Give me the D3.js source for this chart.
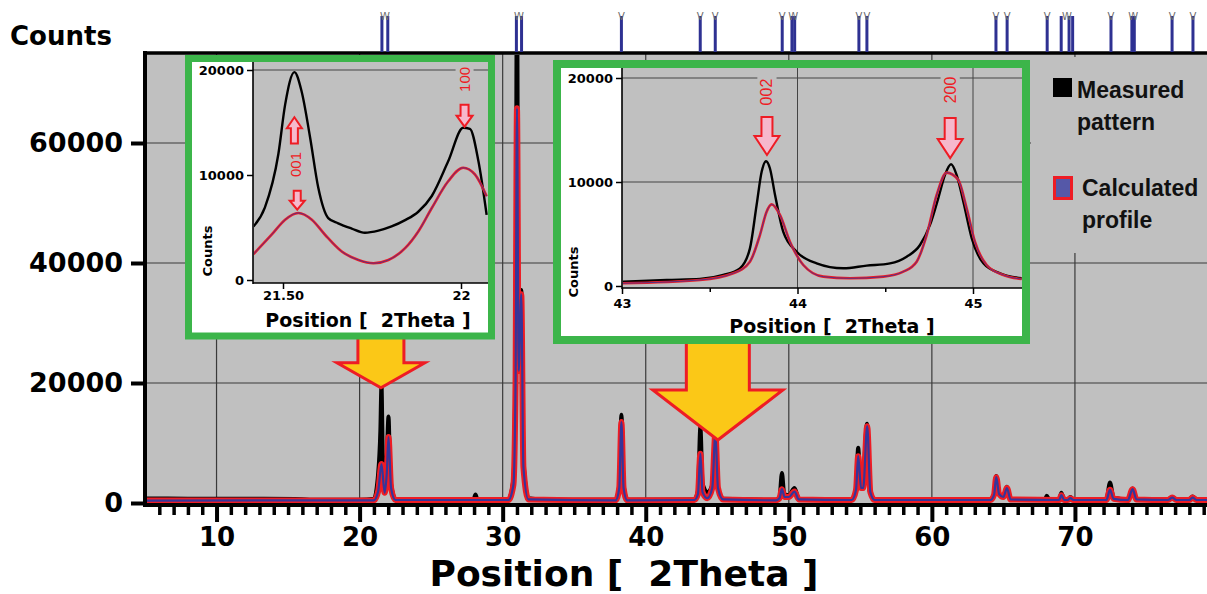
<!DOCTYPE html>
<html>
<head>
<meta charset="utf-8">
<script src="https://cdn.jsdelivr.net/npm/d3@7"></script>
<style>
  body { margin: 0; background: #fff; }
  svg { display: block; }
</style>
</head>
<body>
<div id="chart"></div>
<script>
// XRD pattern with Rietveld fit, two zoomed insets

// ---------- Data ----------

const xTicksMain = [10, 20, 30, 40, 50, 60, 70];
const yTicksMain = [0, 20000, 40000, 60000];

// reference (Bragg) positions shown above the plot
const braggPositions = [21.56, 21.97, 30.96, 31.32, 38.30, 43.81, 44.86, 49.54, 50.22, 50.41,
    54.90, 55.46, 64.48, 65.26, 68.06, 69.04, 69.59, 69.84, 72.52, 73.98, 74.15, 76.79, 78.25];

// [2theta, counts]
const measuredMain = [
    [5, 750], [8, 720], [12, 700], [15.5, 680], [16.5, 550], [20, 550], [21.0, 700], [21.3, 5000],
    [21.45, 12000], [21.53, 19700], [21.62, 8000], [21.75, 4500], [21.9, 7500], [22.02, 14400],
    [22.15, 4000], [22.5, 700], [24, 500], [27.95, 500], [28.1, 1400], [28.25, 500], [30.4, 600],
    [30.75, 4000], [30.9, 25000], [31.0, 90000], [31.1, 30000], [31.3, 35500], [31.45, 7000],
    [31.8, 800], [33, 550], [37.9, 550], [38.15, 3000], [38.3, 14700], [38.45, 3000], [38.7, 550],
    [43.4, 600], [43.65, 2000], [43.82, 12700], [43.97, 3300], [44.3, 1800], [44.65, 3000],
    [44.87, 12000], [45.05, 2500], [45.4, 700], [49.1, 550], [49.35, 1000], [49.52, 5000],
    [49.68, 1500], [50.0, 1300], [50.4, 2500], [50.7, 700], [54.4, 600], [54.7, 2500],
    [54.85, 9200], [55.0, 3500], [55.15, 3000], [55.47, 13200], [55.65, 2000], [56.0, 600],
    [64.1, 600], [64.35, 1500], [64.5, 4500], [64.7, 1500], [65.0, 1200], [65.25, 2700],
    [65.5, 700], [67.9, 600], [68.03, 1200], [68.2, 600], [68.9, 600], [69.05, 1700], [69.25, 600],
    [69.5, 600], [69.68, 1000], [69.9, 550], [72.2, 600], [72.45, 3400], [72.7, 900], [73.7, 600],
    [74.03, 2400], [74.3, 700], [76.5, 600], [76.8, 1000], [77.1, 600], [78.0, 600], [78.22, 1100],
    [78.5, 600], [80, 600]
];

const calculatedMain = [
    [5, 400], [21.0, 450], [21.3, 2000], [21.53, 6500], [21.75, 1700], [21.9, 5000], [22.02, 11000],
    [22.2, 2500], [22.5, 500], [30.4, 500], [30.75, 3000], [30.9, 20000], [31.0, 65800],
    [31.12, 22000], [31.3, 34800], [31.45, 6000], [31.8, 600], [37.9, 450], [38.15, 2500],
    [38.3, 13500], [38.45, 2500], [38.7, 450], [43.4, 500], [43.65, 1500], [43.82, 8200],
    [43.97, 1800], [44.3, 800], [44.65, 2500], [44.87, 11600], [45.05, 2500], [45.4, 600],
    [49.1, 450], [49.35, 800], [49.52, 2300], [49.7, 1000], [50.0, 1000], [50.4, 1900], [50.7, 600],
    [54.4, 500], [54.7, 2200], [54.85, 7800], [55.05, 2500], [55.2, 2500], [55.48, 12800],
    [55.7, 1800], [56.0, 500], [64.1, 500], [64.35, 1400], [64.5, 4300], [64.7, 1500], [65.0, 1000],
    [65.25, 2500], [65.5, 600], [68.9, 500], [69.05, 1300], [69.25, 500], [69.5, 500], [69.68, 800],
    [69.9, 500], [72.2, 500], [72.45, 2200], [72.7, 700], [73.7, 500], [74.03, 2300], [74.3, 600],
    [76.5, 500], [76.8, 900], [77.1, 500], [78.0, 500], [78.22, 900], [78.5, 500], [80, 500]
];

// inset 1: 001 / 100 region
const inset1XTicks = [21.5, 22];
const inset1XLabels = ["21.50", "22"];
const inset1YTicks = [0, 10000, 20000];
const inset1Measured = [
    [21.417, 5100], [21.449, 6900], [21.487, 12000], [21.506, 16700], [21.532, 19800],
    [21.552, 18000], [21.576, 13600], [21.599, 8800], [21.627, 5900], [21.655, 5400],
    [21.693, 4900], [21.730, 4500], [21.768, 4700], [21.805, 5100], [21.843, 5700],
    [21.880, 6500], [21.918, 8000], [21.964, 11300], [22.006, 14500], [22.025, 14400],
    [22.049, 11300], [22.072, 6200]
];
const inset1Calculated = [
    [21.417, 2460], [21.468, 4310], [21.506, 5740], [21.543, 6380], [21.581, 5740],
    [21.618, 4310], [21.665, 2710], [21.712, 1910], [21.754, 1600], [21.796, 1910],
    [21.843, 3030], [21.880, 4620], [21.918, 6860], [21.964, 9400], [22.006, 10690],
    [22.039, 10050], [22.072, 7970]
];

// inset 2: 002 / 200 region
const inset2XTicks = [43, 44, 45];
const inset2XLabels = ["43", "44", "45"];
const inset2YTicks = [0, 10000, 20000];
const inset2Measured = [
    [43.0, 410], [43.255, 580], [43.444, 670], [43.577, 1060], [43.672, 1700], [43.729, 3620],
    [43.767, 7790], [43.796, 11000], [43.821, 12000], [43.843, 11300], [43.872, 8750],
    [43.919, 5200], [43.995, 3300], [44.109, 2180], [44.261, 1700], [44.394, 1960],
    [44.527, 2180], [44.622, 2820], [44.698, 3940], [44.755, 5870], [44.802, 8430],
    [44.840, 10670], [44.875, 11700], [44.907, 10670], [44.945, 8100], [44.993, 4580],
    [45.059, 2180], [45.154, 1220], [45.277, 740]
];
const inset2Calculated = [
    [43.0, 260], [43.444, 580], [43.634, 1220], [43.729, 2340], [43.786, 4900], [43.824, 7150],
    [43.853, 7850], [43.900, 6830], [43.957, 4260], [44.033, 2020], [44.147, 900], [44.299, 740],
    [44.489, 900], [44.603, 1380], [44.679, 2340], [44.736, 4900], [44.793, 8750], [44.850, 10900],
    [44.916, 10200], [44.964, 7470], [45.011, 4260], [45.078, 2020], [45.173, 1060], [45.277, 670]
];

// peak (hkl) labels
const inset1PeakNames = ["001", "100"];
const inset2PeakNames = ["002", "200"];

// ---------- Setup ----------

const width = 1207;
const height = 594;
const boldFont = "'DejaVu Sans', Verdana, sans-serif";
const red = "#ee1c24";
const blue = "#35359a";
const plotGray = "#c0c0c0";

const svg = d3.select("#chart")
    .append("svg")
    .attr("width", width)
    .attr("height", height);

svg.append("rect").attr("width", width).attr("height", height).attr("fill", "#fff");

const defs = svg.append("defs");

const x = d3.scaleLinear().domain([5, 80]).range([145, 1218]);
const y = d3.scaleLinear().domain([0, 75000]).range([503, 53]);

// ---------- Main plot ----------

svg.append("rect")
    .attr("x", 145).attr("y", 53)
    .attr("width", width - 145).attr("height", 452)
    .attr("fill", plotGray);

const grid = svg.append("g").attr("stroke", "#3a3a3a").attr("stroke-width", 1.2);
grid.selectAll(".vg").data(xTicksMain).join("line")
    .attr("x1", d => x(d)).attr("x2", d => x(d))
    .attr("y1", 53).attr("y2", 505);
grid.selectAll(".hg").data(yTicksMain.slice(1)).join("line")
    .attr("x1", 145).attr("x2", width)
    .attr("y1", d => y(d)).attr("y2", d => y(d));

defs.append("clipPath").attr("id", "mainClip")
    .append("rect").attr("x", 147).attr("y", 55).attr("width", width - 147).attr("height", 448);

const mainLine = d3.line()
    .x(d => x(d[0]))
    .y(d => y(d[1]))
    .curve(d3.curveMonotoneX);

const curves = svg.append("g").attr("clip-path", "url(#mainClip)").attr("fill", "none");
curves.append("path").attr("d", mainLine(measuredMain))
    .attr("stroke", "#000").attr("stroke-width", 4).attr("stroke-linejoin", "round");
curves.append("path").attr("d", mainLine(calculatedMain))
    .attr("stroke", red).attr("stroke-width", 6).attr("stroke-linejoin", "round");
curves.append("path").attr("d", mainLine(calculatedMain))
    .attr("stroke", blue).attr("stroke-width", 2.2).attr("stroke-linejoin", "round");

// y axis
const yAxisG = svg.append("g")
    .attr("transform", "translate(145,0)")
    .call(d3.axisLeft(y).tickValues(yTicksMain).tickSize(14).tickPadding(8).tickFormat(d3.format("d")));
yAxisG.select(".domain").remove();
yAxisG.selectAll(".tick line").attr("stroke", "#000").attr("stroke-width", 4);
yAxisG.selectAll(".tick text")
    .attr("font-family", boldFont).attr("font-weight", "bold")
    .attr("font-size", 27).attr("fill", "#000");

// x axis: minor + major ticks
const minorTicks = d3.range(6, 80).filter(d => d % 10 !== 0);
const xMinorG = svg.append("g")
    .attr("transform", "translate(0,505)")
    .call(d3.axisBottom(x).tickValues(minorTicks).tickSize(10).tickFormat(""));
xMinorG.select(".domain").remove();
xMinorG.selectAll(".tick line").attr("stroke", "#000").attr("stroke-width", 3.5);

const xAxisG = svg.append("g")
    .attr("transform", "translate(0,505)")
    .call(d3.axisBottom(x).tickValues(xTicksMain).tickSize(17).tickPadding(6));
xAxisG.select(".domain").remove();
xAxisG.selectAll(".tick line").attr("stroke", "#000").attr("stroke-width", 4);
xAxisG.selectAll(".tick text")
    .attr("font-family", boldFont).attr("font-weight", "bold")
    .attr("font-size", 26).attr("fill", "#000");

// frame lines
svg.append("line").attr("x1", 145).attr("x2", 145).attr("y1", 51).attr("y2", 507)
    .attr("stroke", "#000").attr("stroke-width", 4);
svg.append("line").attr("x1", 143).attr("x2", width).attr("y1", 53).attr("y2", 53)
    .attr("stroke", "#000").attr("stroke-width", 3.5);
svg.append("line").attr("x1", 143).attr("x2", width).attr("y1", 505).attr("y2", 505)
    .attr("stroke", "#000").attr("stroke-width", 4);

// Bragg position markers
const markers = svg.append("g");
markers.selectAll("line").data(braggPositions).join("line")
    .attr("x1", d => x(d)).attr("x2", d => x(d))
    .attr("y1", 16).attr("y2", 52)
    .attr("stroke", "#2e3192").attr("stroke-width", 3);

// close markers share one glyph ("W" = two "V" side by side)
const markerGroups = [];
braggPositions.forEach(p => {
    const last = markerGroups[markerGroups.length - 1];
    if (last && x(p) - x(last[last.length - 1]) < 8) last.push(p);
    else markerGroups.push([p]);
});
markers.selectAll("text").data(markerGroups).join("text")
    .attr("x", d => (x(d[0]) + x(d[d.length - 1])) / 2).attr("y", 20)
    .attr("text-anchor", "middle")
    .attr("font-family", boldFont).attr("font-size", 10)
    .attr("fill", "#6a6a6a")
    .text(d => d.length > 1 ? "W" : "V");

// axis titles
svg.append("text")
    .attr("x", 10).attr("y", 45)
    .attr("font-family", boldFont).attr("font-weight", "bold").attr("font-size", 26)
    .text("Counts");

svg.append("text")
    .attr("x", 624).attr("y", 586)
    .attr("text-anchor", "middle")
    .style("white-space", "pre")
    .attr("font-family", boldFont).attr("font-weight", "bold").attr("font-size", 36)
    .text("Position [  2Theta ]");

// ---------- Legend ----------

const legend = svg.append("g");
legend.append("rect").attr("x", 1031).attr("y", 57).attr("width", width - 1031).attr("height", 196)
    .attr("fill", plotGray);
legend.append("rect").attr("x", 1053).attr("y", 78).attr("width", 19).attr("height", 19).attr("fill", "#000");
legend.append("rect").attr("x", 1054.5).attr("y", 177.5).attr("width", 17).attr("height", 21)
    .attr("fill", "#5558a8").attr("stroke", red).attr("stroke-width", 3);
const legendText = [
    { t: "Measured", x: 1077, y: 98 },
    { t: "pattern", x: 1077, y: 130 },
    { t: "Calculated", x: 1082, y: 196 },
    { t: "profile", x: 1082, y: 228 }
];
legend.selectAll("text").data(legendText).join("text")
    .attr("x", d => d.x).attr("y", d => d.y)
    .attr("font-family", "'Liberation Sans', Arial, sans-serif")
    .attr("font-weight", "bold").attr("font-size", 23)
    .attr("fill", "#111")
    .text(d => d.t);

// ---------- Arrows ----------

function arrowPath(cx, yBase, yTip, shaftW, headW, headLen) {
    const dir = Math.sign(yTip - yBase);
    const yNeck = yTip - dir * headLen;
    return `M${cx - shaftW / 2},${yBase} L${cx - shaftW / 2},${yNeck} L${cx - headW / 2},${yNeck}
        L${cx},${yTip} L${cx + headW / 2},${yNeck} L${cx + shaftW / 2},${yNeck} L${cx + shaftW / 2},${yBase} Z`;
}

// big yellow arrows pointing at the zoomed regions
const bigArrows = [
    { theta: 21.49, base: 28000, tip: 19200, shaftW: 46, headW: 88, headLen: 25 },
    { theta: 45.04, base: 27000, tip: 10500, shaftW: 63, headW: 130, headLen: 50 }
];
svg.append("g").selectAll("path").data(bigArrows).join("path")
    .attr("d", d => arrowPath(x(d.theta), y(d.base), y(d.tip), d.shaftW, d.headW, d.headLen))
    .attr("fill", "#fbc817").attr("stroke", red).attr("stroke-width", 3)
    .attr("stroke-linejoin", "miter");

// ---------- Insets ----------

const insets = [
    {
        id: "in1",
        frame: { x: 188.5, y: 58.5, w: 303, h: 277.5, sw: 7 },
        plot: { x0: 253, x1: 488, y0: 62, y1: 283 },
        xDomain: [21.5, 22], xRange: [283, 461],
        yDomain: [0, 20000], yRange: [280, 70],
        xTicks: inset1XTicks, xLabels: inset1XLabels, yTicks: inset1YTicks, minorX: [],
        hGrid: [20000], vGrid: [],
        measured: inset1Measured, calculated: inset1Calculated,
        counts: [212, 251], title: [368, 327], xLabelY: 300,
        labels: [
            { text: inset1PeakNames[0], theta: 21.535, c: 11000 },
            { text: inset1PeakNames[1], theta: 22.01, c: 19100 }
        ],
        labelSize: 15,
        arrows: [
            { theta: 21.532, base: 13000, tip: 15500, shaftW: 7, headW: 15, headLen: 11 },
            { theta: 21.54, base: 8500, tip: 6700, shaftW: 7, headW: 15, headLen: 9 },
            { theta: 22.01, base: 16700, tip: 14600, shaftW: 8, headW: 16, headLen: 11 }
        ]
    },
    {
        id: "in2",
        frame: { x: 557, y: 64, w: 469, h: 276, sw: 8 },
        plot: { x0: 622, x1: 1022, y0: 68, y1: 288 },
        xDomain: [43, 45], xRange: [622, 973],
        yDomain: [0, 20000], yRange: [286, 78],
        xTicks: inset2XTicks, xLabels: inset2XLabels, yTicks: inset2YTicks, minorX: [43.5, 44.5],
        hGrid: [10000, 20000], vGrid: [44, 45],
        measured: inset2Measured, calculated: inset2Calculated,
        counts: [578, 272], title: [832, 333], xLabelY: 308,
        labels: [
            { text: inset2PeakNames[0], theta: 43.826, c: 18650 },
            { text: inset2PeakNames[1], theta: 44.87, c: 18850 }
        ],
        labelSize: 16,
        arrows: [
            { theta: 43.826, base: 16250, tip: 12600, shaftW: 11, headW: 25, headLen: 19 },
            { theta: 44.87, base: 16150, tip: 12300, shaftW: 11, headW: 25, headLen: 19 }
        ]
    }
];

insets.forEach(cfg => {
    const g = svg.append("g");
    const ix = d3.scaleLinear().domain(cfg.xDomain).range(cfg.xRange);
    const iy = d3.scaleLinear().domain(cfg.yDomain).range(cfg.yRange);
    const p = cfg.plot;
    const f = cfg.frame;

    g.append("rect").attr("x", f.x).attr("y", f.y).attr("width", f.w).attr("height", f.h).attr("fill", "#fff");
    g.append("rect").attr("x", p.x0).attr("y", p.y0).attr("width", p.x1 - p.x0).attr("height", p.y1 - p.y0)
        .attr("fill", plotGray);

    const ig = g.append("g").attr("stroke", "#444").attr("stroke-width", 1);
    ig.selectAll(".h").data(cfg.hGrid).join("line")
        .attr("x1", p.x0).attr("x2", p.x1).attr("y1", d => iy(d)).attr("y2", d => iy(d));
    ig.selectAll(".v").data(cfg.vGrid).join("line")
        .attr("y1", p.y0).attr("y2", p.y1).attr("x1", d => ix(d)).attr("x2", d => ix(d));

    defs.append("clipPath").attr("id", cfg.id + "Clip")
        .append("rect").attr("x", p.x0 + 1).attr("y", p.y0).attr("width", p.x1 - p.x0 - 1).attr("height", p.y1 - p.y0 - 1);

    const line = d3.line().x(d => ix(d[0])).y(d => iy(d[1])).curve(d3.curveMonotoneX);
    const cg = g.append("g").attr("clip-path", `url(#${cfg.id}Clip)`).attr("fill", "none");
    cg.append("path").attr("d", line(cfg.measured)).attr("stroke", "#000").attr("stroke-width", 2.4);
    cg.append("path").attr("d", line(cfg.calculated)).attr("stroke", red).attr("stroke-width", 2.6);
    cg.append("path").attr("d", line(cfg.calculated)).attr("stroke", blue).attr("stroke-width", 0.8);

    // axes
    const ya = g.append("g").attr("transform", `translate(${p.x0},0)`)
        .call(d3.axisLeft(iy).tickValues(cfg.yTicks).tickSize(6).tickPadding(3).tickFormat(d3.format("d")));
    ya.select(".domain").remove();
    ya.selectAll(".tick line").attr("stroke", "#000").attr("stroke-width", 1.5);
    ya.selectAll(".tick text").attr("font-family", boldFont).attr("font-weight", "bold")
        .attr("font-size", 13).attr("fill", "#000");

    if (cfg.minorX.length) {
        const xm = g.append("g").attr("transform", `translate(0,${p.y1})`)
            .call(d3.axisBottom(ix).tickValues(cfg.minorX).tickSize(4).tickFormat(""));
        xm.select(".domain").remove();
        xm.selectAll(".tick line").attr("stroke", "#000").attr("stroke-width", 1.5);
    }
    const xa = g.append("g").attr("transform", `translate(0,${p.y1})`)
        .call(d3.axisBottom(ix).tickValues(cfg.xTicks).tickSize(6).tickFormat((d, i) => cfg.xLabels[i]));
    xa.select(".domain").remove();
    xa.selectAll(".tick line").attr("stroke", "#000").attr("stroke-width", 1.5);
    xa.selectAll(".tick text").attr("font-family", boldFont).attr("font-weight", "bold")
        .attr("font-size", 13).attr("fill", "#000")
        .attr("y", cfg.xLabelY - p.y1).attr("dy", 0);

    g.append("line").attr("x1", p.x0).attr("x2", p.x0).attr("y1", p.y0).attr("y2", p.y1 + 1)
        .attr("stroke", "#000").attr("stroke-width", 1.6);
    g.append("line").attr("x1", p.x0).attr("x2", p.x1).attr("y1", p.y1).attr("y2", p.y1)
        .attr("stroke", "#000").attr("stroke-width", 1.6);

    g.append("text")
        .attr("transform", `translate(${cfg.counts[0]},${cfg.counts[1]}) rotate(-90)`)
        .attr("text-anchor", "middle")
        .attr("font-family", boldFont).attr("font-weight", "bold").attr("font-size", 13)
        .text("Counts");
    g.append("text")
        .attr("x", cfg.title[0]).attr("y", cfg.title[1])
        .attr("text-anchor", "middle")
        .style("white-space", "pre")
        .attr("font-family", boldFont).attr("font-weight", "bold").attr("font-size", 19)
        .text("Position [  2Theta ]");

    // hkl labels with gray backing (breaks the gridline)
    const lg = g.append("g").selectAll("g").data(cfg.labels).join("g")
        .attr("transform", d => `translate(${ix(d.theta)},${iy(d.c)}) rotate(-90)`);
    lg.append("rect")
        .attr("x", -cfg.labelSize).attr("y", -cfg.labelSize * 0.6)
        .attr("width", cfg.labelSize * 2).attr("height", cfg.labelSize * 1.2)
        .attr("fill", plotGray);
    lg.append("text")
        .attr("text-anchor", "middle")
        .attr("dominant-baseline", "central")
        .attr("font-family", "'Liberation Sans', Arial, sans-serif")
        .attr("font-size", cfg.labelSize)
        .attr("fill", red)
        .text(d => d.text);

    g.append("g").selectAll("path").data(cfg.arrows).join("path")
        .attr("d", d => arrowPath(ix(d.theta), iy(d.base), iy(d.tip), d.shaftW, d.headW, d.headLen))
        .attr("fill", "#f6b8cc").attr("stroke", red).attr("stroke-width", 2);

    g.append("rect").attr("x", f.x).attr("y", f.y).attr("width", f.w).attr("height", f.h)
        .attr("fill", "none").attr("stroke", "#3cb54a").attr("stroke-width", f.sw);
});
</script>
</body>
</html>
